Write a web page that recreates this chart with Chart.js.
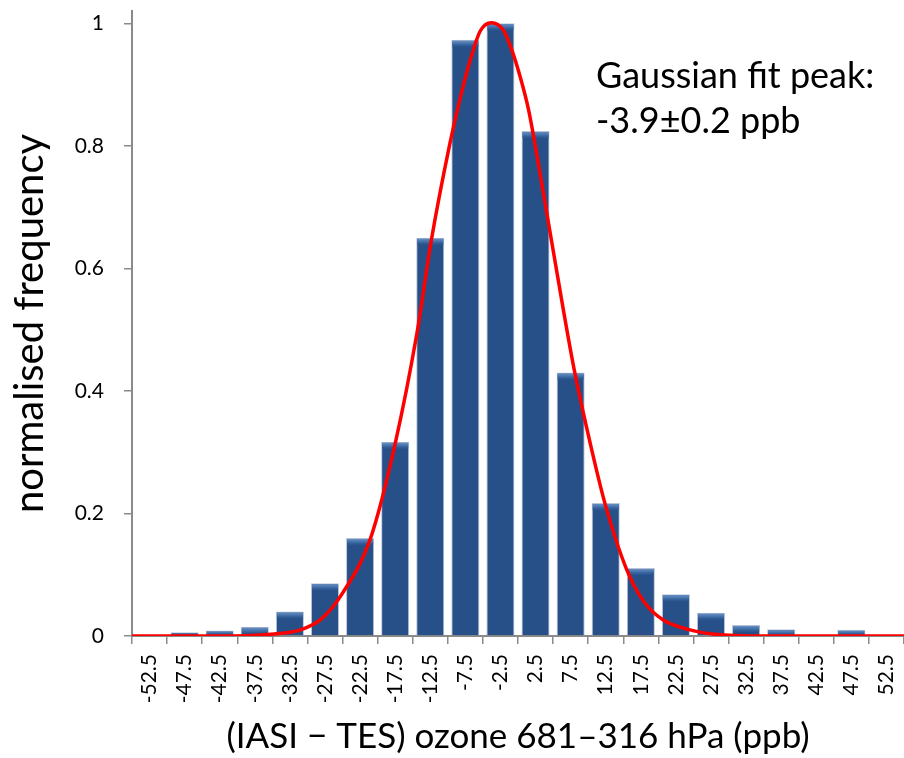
<!DOCTYPE html>
<html lang="en">
<head>
  <meta charset="UTF-8">
  <title>IASI - TES ozone difference</title>
  <script src="https://cdn.jsdelivr.net/npm/chart.js"></script>
  <style>
    html, body { margin: 0; padding: 0; background: #fff; }
    #wrap { width: 904px; height: 758px; position: relative; }
  </style>
</head>
<body>
  <div id="wrap"><canvas id="histChart"></canvas></div>

  <script>
    // bin centres (ppb)
    const bins = ['-52.5', '-47.5', '-42.5', '-37.5', '-32.5', '-27.5', '-22.5', '-17.5', '-12.5', '-7.5', '-2.5',
                  '2.5', '7.5', '12.5', '17.5', '22.5', '27.5', '32.5', '37.5', '42.5', '47.5', '52.5'];
    // normalised frequency per bin
    const freq = [0, 0.006, 0.009, 0.015, 0.040, 0.086, 0.160, 0.317, 0.650, 0.973, 1.0,
                  0.824, 0.430, 0.217, 0.111, 0.068, 0.038, 0.018, 0.011, 0, 0.010, 0];
    // gaussian fit curve
    const fitX = [-55, -45, -38, -34, -31, -28, -25, -21, -17.5, -14.4, -12.3, -9.7, -8.3, -6.8, -5.4, -3.8,
                  -2.1, -0.9, 0.3, 1.5, 2.4, 5, 8, 10.3, 12.4, 15.5, 18, 20.7, 24.5, 28, 35, 45, 55];
    const fitY = [0, 0, 0.001, 0.004, 0.010, 0.028, 0.070, 0.160, 0.314, 0.494, 0.649, 0.804, 0.875, 0.940, 0.987, 1.001,
                  0.989, 0.957, 0.913, 0.859, 0.804, 0.630, 0.435, 0.314, 0.216, 0.108, 0.055, 0.026, 0.010, 0.003, 0, 0, 0];
    const yTicks = [0, 0.2, 0.4, 0.6, 0.8, 1];

    const axisGrey = '#8a8a8a';
    const font = 'Lato, "Open Sans", sans-serif';

    // lighter bevel strip on top of each bar
    const bevel = {
      id: 'bevel',
      afterDatasetDraw(chart, args) {
        if (args.meta.type !== 'bar') return;
        const ctx = chart.ctx;
        args.meta.data.forEach(bar => {
          const h = bar.base - bar.y;
          if (!isFinite(h) || h < 2) return;
          const left = bar.x - bar.width / 2 + 1;
          const w = bar.width - 2;
          const bh = Math.min(6, h - 1);
          const g = ctx.createLinearGradient(0, bar.y, 0, bar.y + bh);
          g.addColorStop(0, '#7099cf');
          g.addColorStop(1, '#2c5993');
          ctx.save();
          ctx.fillStyle = g;
          ctx.fillRect(left, bar.y + 1, w, bh);
          ctx.restore();
        });
      }
    };

    const note = {
      id: 'note',
      afterDraw(chart) {
        const ctx = chart.ctx;
        ctx.save();
        ctx.fillStyle = '#000';
        ctx.font = '36px ' + font;
        ctx.textAlign = 'left';
        ctx.textBaseline = 'alphabetic';
        ctx.fillText('Gaussian fit peak:', 596, 88);
        ctx.fillText('-3.9±0.2 ppb', 596, 133);
        ctx.restore();
      }
    };

    const ctx = document.getElementById('histChart').getContext('2d');
    new Chart(ctx, {
      type: 'bar',
      data: {
        labels: bins,
        datasets: [{
          type: 'bar',
          label: 'frequency',
          data: freq,
          xAxisID: 'x',
          grouped: false,
          backgroundColor: '#265087',
          borderColor: '#b9c4d6',
          borderWidth: 1,
          borderSkipped: 'bottom',
          categoryPercentage: 1,
          barPercentage: 0.8,
          order: 1
        }, {
          type: 'line',
          label: 'Gaussian fit',
          data: fitX.map((x, i) => ({ x: x, y: fitY[i] })),
          xAxisID: 'xl',
          borderColor: '#ff0000',
          borderWidth: 3.5,
          pointRadius: 0,
          cubicInterpolationMode: 'monotone',
          order: 0
        }]
      },
      options: {
        responsive: true,
        maintainAspectRatio: false,
        animation: false,
        layout: { padding: { top: 11, right: 0, left: 0, bottom: 0 } },
        plugins: { legend: { display: false }, tooltip: { enabled: false } },
        scales: {
          x: {
            type: 'category',
            offset: true,
            afterFit: s => { s.height = 122; s.paddingRight = 0; s.paddingLeft = 0; },
            grid: { offset: true, drawOnChartArea: false, tickLength: 8, color: axisGrey, lineWidth: 1.5 },
            border: { color: axisGrey, width: 2 },
            ticks: { minRotation: 90, maxRotation: 90, padding: 10, color: '#000', font: { family: font, size: 21 }, autoSkip: false },
            title: { display: true, text: '(IASI \u2212 TES) ozone 681\u2013316 hPa (ppb)', color: '#000', font: { family: font, size: 35 }, padding: { top: 0, bottom: 0 } }
          },
          xl: {
            type: 'linear',
            display: false,
            offset: false,
            grid: { offset: false },
            min: -55,
            max: 55
          },
          y: {
            min: 0,
            max: 1.02,
            afterFit: s => { s.width = 132; s.paddingTop = 0; s.paddingBottom = 0; },
            afterBuildTicks: s => { s.ticks = yTicks.map(v => ({ value: v })); },
            grid: { drawOnChartArea: false, tickLength: 8, color: axisGrey, lineWidth: 1.5 },
            border: { color: axisGrey, width: 2 },
            ticks: { padding: 20, color: '#000', font: { family: font, size: 21 }, callback: v => String(Number(v.toFixed(1))) },
            title: { display: true, text: 'normalised frequency', color: '#000', font: { family: font, size: 40 }, padding: { top: 6, bottom: 0 } }
          }
        }
      },
      plugins: [bevel, note]
    });
  </script>
</body>
</html>
